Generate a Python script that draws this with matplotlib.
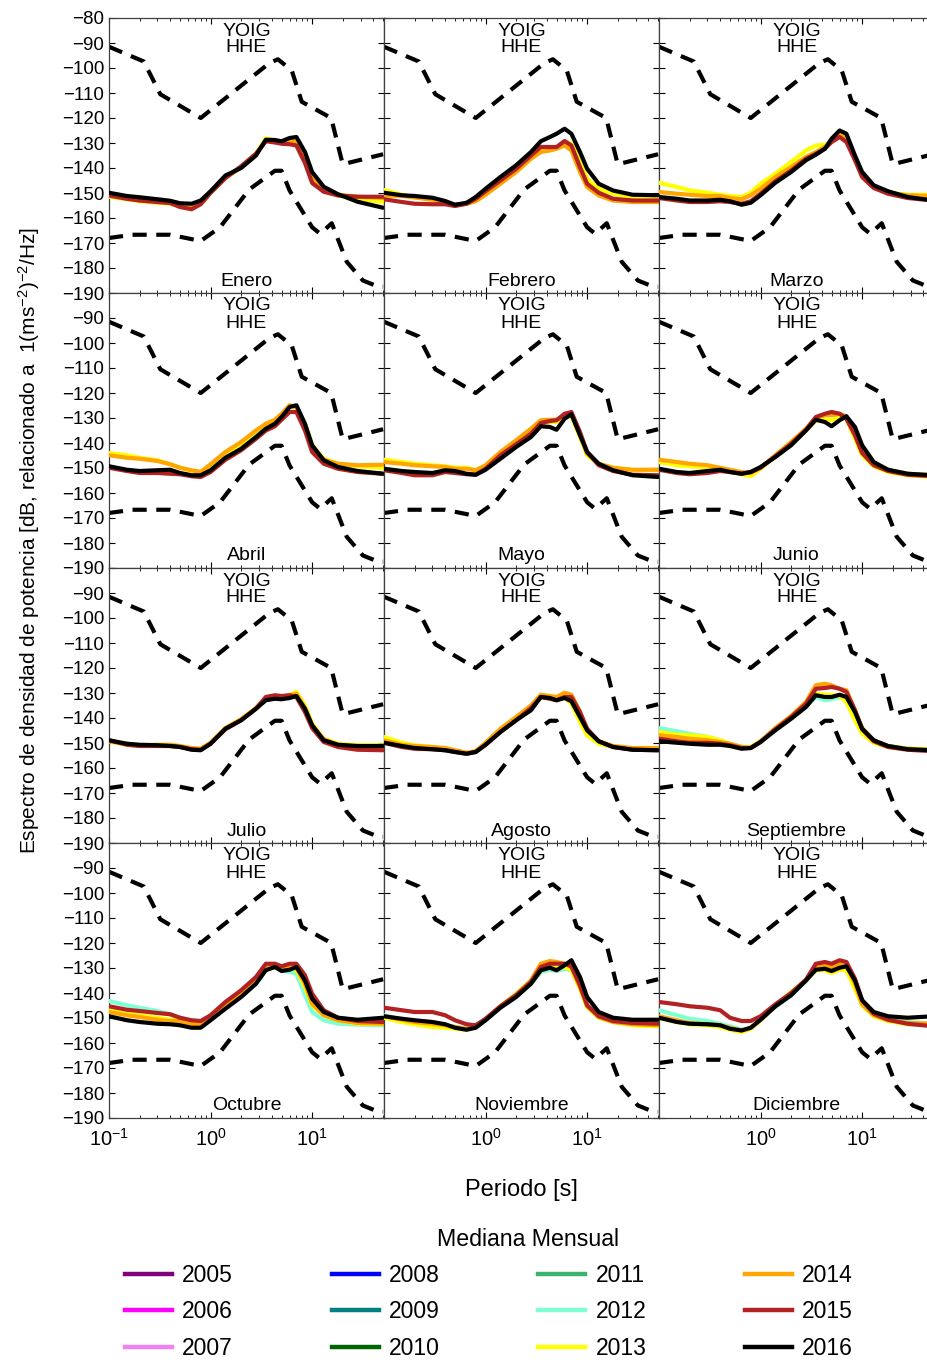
import matplotlib
matplotlib.use("Agg")
import matplotlib.pyplot as plt
from matplotlib.lines import Line2D
from matplotlib.ticker import FixedLocator, LogLocator, NullFormatter, FixedFormatter

plt.rcParams['font.family'] = ['Liberation Sans', 'DejaVu Sans']
plt.rcParams['mathtext.fontset'] = 'custom'
plt.rcParams['mathtext.rm'] = 'Liberation Sans'
plt.rcParams['mathtext.it'] = 'Liberation Sans:italic'
plt.rcParams['mathtext.bf'] = 'Liberation Sans:bold'

# ---------------- data ----------------
periods = [0.1, 0.15, 0.2, 0.3, 0.4, 0.5, 0.65, 0.8, 1.0, 1.4, 2.0, 2.8, 3.5,
           4.3, 5.0, 6.0, 7.0, 8.5, 10, 13, 18, 28, 50]

# Peterson noise models (vertices)
nhnm_T = [0.1, 0.22, 0.32, 0.8, 3.8, 4.6, 6.3, 7.9, 15.4, 20.0, 50.0]
nhnm_dB = [-91.5, -97.4, -110.5, -120.0, -98.0, -96.5, -101.0, -113.5, -120.0, -138.5, -134.5]
nlnm_T = [0.1, 0.17, 0.4, 0.8, 1.24, 2.4, 4.3, 5.0, 6.0, 10.0, 12.0, 15.6, 21.9, 31.6, 45.0, 50.0]
nlnm_dB = [-168.0, -166.7, -166.7, -169.2, -163.7, -148.6, -141.1, -141.1, -149.0, -163.7,
           -166.3, -162.1, -177.5, -185.0, -187.5, -187.5]

years = [2005, 2006, 2007, 2008, 2009, 2010, 2011, 2012, 2013, 2014, 2015, 2016]
year_colors = ['#800080', '#FF00FF', '#EE82EE', '#0000FF', '#008080', '#006400',
               '#3CB371', '#7FFFD4', '#FFFF00', '#FFA500', '#B22222', '#000000']

months = ['Enero', 'Febrero', 'Marzo', 'Abril', 'Mayo', 'Junio', 'Julio',
          'Agosto', 'Septiembre', 'Octubre', 'Noviembre', 'Diciembre']

enero = {
    2013: [-151.5, -152.5, -153.3, -153.9, -154.3, -155.3, -156.0, -154.3, -149.9, -144.0, -139.6, -134.3, -128.2, -129.0, -129.6, -129.0, -129.0, -135.0, -143.5, -149.0, -151.0, -152.5, -153.5],
    2014: [-151.0, -152.3, -153.0, -153.6, -154.0, -155.3, -156.0, -154.3, -149.9, -144.0, -139.6, -134.3, -128.9, -129.3, -129.6, -129.3, -129.6, -136.0, -144.0, -149.0, -150.7, -151.5, -152.0],
    2015: [-151.0, -152.3, -153.0, -153.6, -154.0, -155.6, -156.5, -154.5, -149.9, -144.0, -139.3, -134.3, -129.3, -129.8, -130.3, -130.5, -131.0, -138.0, -146.0, -149.5, -151.0, -151.5, -151.5],
    2016: [-149.9, -151.2, -151.7, -152.5, -153.1, -154.1, -154.3, -153.0, -149.3, -143.0, -140.0, -135.0, -128.7, -128.8, -129.3, -128.0, -127.6, -133.6, -141.6, -147.5, -150.5, -153.5, -155.9],
}
febrero = {
    2013: [-148.8, -150.7, -151.6, -152.7, -153.6, -154.7, -154.3, -152.3, -149.3, -144.9, -140.5, -135.2, -133.0, -132.3, -131.9, -129.6, -130.3, -137.0, -144.3, -148.3, -150.3, -151.6, -152.3],
    2014: [-151.0, -151.2, -151.8, -152.7, -153.6, -154.7, -154.3, -153.3, -150.7, -146.3, -141.6, -136.3, -133.6, -133.0, -132.3, -131.0, -133.0, -141.6, -147.6, -151.0, -153.0, -153.6, -153.6],
    2015: [-152.5, -153.6, -154.3, -154.5, -154.5, -155.2, -154.3, -152.3, -149.3, -145.0, -140.3, -135.0, -131.6, -131.6, -131.6, -129.2, -131.0, -139.6, -146.3, -149.9, -152.3, -153.0, -153.0],
    2016: [-149.9, -150.9, -151.2, -151.9, -153.2, -154.7, -153.9, -151.6, -148.3, -143.6, -138.9, -133.6, -129.3, -127.6, -126.3, -124.3, -126.3, -133.6, -140.3, -146.3, -149.0, -150.7, -150.9],
}
marzo = {
    2013: [-145.9, -147.6, -148.9, -149.9, -150.7, -151.2, -151.6, -149.9, -146.3, -142.3, -137.6, -133.0, -131.0, -130.7, -129.6, -126.3, -128.3, -135.6, -142.3, -147.6, -149.9, -150.7, -150.7],
    2014: [-149.6, -150.3, -150.7, -151.2, -151.2, -152.0, -152.5, -150.9, -148.3, -143.6, -139.6, -135.6, -133.6, -131.6, -129.6, -126.9, -128.3, -136.3, -142.9, -147.6, -149.9, -150.9, -151.2],
    2015: [-152.0, -153.0, -153.6, -153.6, -153.3, -153.6, -154.3, -153.3, -150.3, -145.3, -141.0, -136.3, -134.3, -132.3, -129.6, -127.6, -129.6, -136.9, -143.6, -148.0, -150.3, -152.0, -153.0],
    2016: [-151.6, -152.3, -153.0, -153.0, -152.7, -153.3, -154.7, -153.9, -150.9, -145.9, -141.6, -136.9, -134.7, -132.3, -128.3, -125.0, -126.3, -135.0, -141.6, -146.9, -149.3, -151.6, -153.0],
}
abril = {
    2013: [-144.0, -144.9, -145.9, -146.9, -148.5, -149.9, -151.2, -151.6, -148.9, -144.3, -140.3, -135.6, -133.0, -130.9, -128.9, -125.3, -125.6, -132.3, -140.9, -146.3, -148.3, -149.3, -149.9],
    2014: [-144.9, -145.9, -146.3, -147.2, -148.5, -149.9, -150.9, -151.6, -148.5, -143.6, -139.6, -135.0, -132.3, -130.7, -128.3, -124.9, -125.6, -133.6, -142.3, -146.7, -148.3, -148.9, -148.7],
    2015: [-149.9, -151.2, -152.0, -152.0, -152.3, -152.5, -153.3, -153.6, -151.6, -146.7, -142.9, -138.3, -135.0, -133.3, -130.7, -127.6, -127.6, -135.0, -143.6, -148.3, -150.3, -151.6, -152.3],
    2016: [-149.3, -150.7, -151.2, -150.9, -150.7, -152.0, -152.9, -152.9, -150.9, -145.9, -142.3, -137.6, -134.3, -132.3, -129.6, -125.6, -124.9, -132.3, -140.9, -146.9, -149.6, -151.2, -152.3],
}
mayo = {
    2013: [-146.7, -147.6, -148.3, -148.9, -149.3, -149.9, -149.9, -150.9, -149.3, -144.9, -140.0, -135.6, -132.3, -131.6, -131.6, -129.6, -129.3, -137.6, -144.9, -148.3, -149.9, -150.9, -150.7],
    2014: [-147.6, -148.3, -148.9, -149.3, -149.6, -150.3, -150.3, -150.9, -148.9, -143.6, -138.9, -134.3, -130.9, -130.7, -130.7, -128.9, -128.3, -136.3, -144.3, -148.3, -149.9, -150.7, -150.7],
    2015: [-150.9, -152.0, -152.9, -152.9, -151.6, -152.0, -152.5, -152.7, -150.3, -144.9, -140.5, -136.3, -132.0, -131.2, -130.9, -128.3, -127.6, -135.6, -143.6, -148.9, -151.2, -152.7, -152.9],
    2016: [-150.3, -151.2, -151.6, -152.0, -150.9, -151.2, -152.3, -152.7, -150.7, -146.3, -141.6, -137.6, -133.3, -133.6, -134.7, -130.3, -128.5, -136.9, -143.6, -148.3, -150.9, -152.9, -153.6],
}
junio = {
    2013: [-147.6, -148.9, -149.3, -149.9, -150.7, -151.2, -152.5, -153.3, -150.3, -145.3, -140.3, -135.0, -130.9, -130.7, -130.9, -129.6, -130.3, -138.3, -144.9, -149.3, -151.6, -152.9, -153.6],
    2014: [-146.7, -147.6, -148.3, -148.9, -149.9, -150.7, -151.6, -152.0, -149.9, -144.9, -139.6, -134.3, -129.9, -128.9, -128.9, -128.3, -129.3, -136.3, -143.6, -148.3, -150.7, -152.3, -152.9],
    2015: [-150.7, -152.0, -152.5, -152.0, -151.2, -151.6, -152.3, -151.6, -149.9, -145.3, -140.3, -134.7, -129.6, -128.3, -127.6, -128.3, -130.3, -136.9, -144.0, -148.9, -151.2, -152.7, -153.3],
    2016: [-150.3, -151.6, -152.0, -151.2, -150.7, -151.6, -152.3, -151.6, -149.6, -145.6, -140.9, -135.0, -130.7, -131.6, -133.3, -130.9, -129.3, -133.6, -140.9, -147.6, -150.7, -152.3, -152.9],
}
julio = {
    2013: [-149.3, -150.7, -151.2, -150.9, -151.2, -151.6, -152.3, -152.3, -149.9, -144.0, -140.5, -136.0, -132.0, -131.6, -131.6, -130.7, -129.6, -135.0, -142.3, -148.3, -150.3, -150.9, -150.9],
    2014: [-149.3, -150.3, -150.9, -150.7, -150.7, -151.2, -152.0, -152.3, -149.9, -144.0, -140.5, -136.0, -132.0, -131.6, -131.6, -130.9, -130.3, -136.0, -142.9, -148.5, -150.7, -151.6, -151.6],
    2015: [-148.9, -150.7, -151.2, -151.2, -151.2, -151.6, -152.5, -152.7, -150.3, -144.5, -140.9, -136.3, -131.6, -130.9, -131.2, -130.9, -131.6, -137.6, -144.0, -149.6, -151.6, -152.7, -152.9],
    2016: [-148.9, -150.3, -150.7, -150.9, -151.2, -151.6, -152.7, -152.9, -150.3, -144.3, -140.9, -136.3, -132.9, -132.3, -132.5, -132.0, -131.2, -136.3, -142.9, -148.9, -150.7, -151.2, -151.2],
}
agosto = {
    2013: [-147.6, -149.9, -150.9, -151.6, -152.3, -152.9, -153.9, -153.3, -150.3, -144.9, -140.3, -135.6, -130.9, -132.0, -132.3, -131.6, -134.3, -141.6, -146.9, -150.3, -151.6, -152.3, -152.3],
    2014: [-148.9, -150.7, -151.2, -151.6, -152.0, -152.9, -153.9, -153.3, -149.9, -144.3, -139.6, -135.0, -130.7, -131.2, -131.6, -129.9, -130.7, -137.6, -144.9, -149.3, -151.2, -152.0, -152.0],
    2015: [-149.9, -151.6, -152.3, -152.5, -152.9, -153.6, -154.3, -153.6, -150.7, -145.6, -140.9, -136.0, -131.6, -132.3, -132.9, -131.6, -131.6, -137.6, -144.3, -149.3, -151.6, -152.7, -152.9],
    2016: [-149.9, -151.2, -152.0, -152.5, -152.9, -153.6, -154.3, -153.6, -150.7, -145.6, -140.9, -136.9, -131.6, -132.0, -132.9, -132.0, -133.3, -139.6, -144.9, -149.3, -151.6, -152.7, -152.9],
}
septiembre = {
    2012: [-144.0, -145.3, -146.3, -147.6, -148.9, -150.3, -151.6, -151.6, -149.3, -144.5, -140.0, -135.0, -131.6, -132.9, -132.5, -131.6, -132.3, -138.3, -144.9, -149.3, -151.2, -152.3, -152.5],
    2013: [-145.6, -146.7, -146.9, -147.6, -148.9, -150.3, -151.6, -151.6, -149.3, -144.3, -139.6, -134.7, -130.3, -130.7, -130.7, -131.2, -133.6, -140.9, -146.3, -149.9, -151.6, -152.3, -152.5],
    2014: [-146.9, -147.6, -148.3, -148.9, -149.6, -150.3, -151.6, -152.0, -149.3, -144.0, -139.2, -133.6, -126.9, -126.3, -126.9, -128.3, -128.9, -136.9, -144.0, -148.9, -151.2, -152.3, -152.9],
    2015: [-148.3, -149.3, -149.9, -149.9, -150.3, -150.9, -152.0, -152.0, -149.6, -144.5, -139.6, -134.3, -128.3, -128.0, -127.6, -128.3, -129.6, -136.9, -144.5, -149.3, -151.6, -152.7, -153.3],
    2016: [-149.3, -149.9, -150.3, -150.7, -150.7, -151.2, -152.3, -152.0, -149.6, -144.9, -140.3, -135.6, -130.9, -131.6, -131.6, -130.7, -131.6, -137.6, -144.3, -148.9, -151.2, -152.5, -152.9],
}
octubre = {
    2012: [-143.2, -144.9, -145.9, -147.2, -148.5, -149.9, -151.2, -152.0, -149.9, -144.5, -140.3, -135.0, -129.6, -129.6, -130.9, -131.6, -132.3, -140.9, -147.6, -150.9, -152.3, -152.7, -152.9],
    2013: [-146.9, -148.3, -148.9, -149.9, -150.7, -150.9, -151.6, -152.0, -149.9, -144.9, -140.5, -135.6, -130.3, -129.9, -130.3, -129.9, -130.7, -137.6, -144.9, -148.9, -150.9, -152.3, -152.5],
    2014: [-147.6, -148.9, -149.6, -150.7, -151.2, -151.2, -152.3, -152.5, -150.3, -145.3, -140.5, -135.0, -129.9, -129.3, -130.3, -129.6, -129.9, -136.3, -144.3, -148.9, -150.9, -152.0, -152.3],
    2015: [-145.3, -146.7, -147.2, -148.0, -148.5, -149.9, -150.9, -151.2, -148.9, -143.6, -138.9, -133.6, -128.3, -128.3, -129.3, -128.3, -128.3, -132.9, -140.3, -146.9, -149.9, -151.2, -151.6],
    2016: [-149.3, -150.9, -151.6, -152.3, -152.5, -152.9, -153.9, -153.9, -150.9, -146.3, -141.6, -136.3, -130.9, -129.6, -131.2, -130.7, -129.6, -135.0, -142.3, -147.6, -149.9, -150.7, -149.9],
}
noviembre = {
    2012: [-148.9, -150.7, -151.6, -152.3, -152.9, -153.6, -154.3, -153.6, -150.7, -145.6, -141.3, -136.3, -131.6, -130.7, -131.2, -130.3, -130.9, -137.6, -144.9, -149.3, -151.2, -152.3, -152.7],
    2013: [-149.9, -151.6, -152.5, -153.6, -153.9, -154.3, -154.7, -153.6, -150.7, -145.3, -140.5, -135.2, -129.6, -129.6, -129.9, -129.6, -130.7, -138.3, -145.6, -149.9, -151.6, -152.9, -153.3],
    2014: [-149.3, -150.7, -151.6, -152.3, -152.9, -153.6, -154.3, -153.6, -150.7, -145.3, -140.5, -135.0, -128.3, -127.2, -127.6, -128.3, -129.6, -137.6, -145.3, -149.6, -151.6, -152.5, -152.9],
    2015: [-145.9, -146.9, -147.6, -147.6, -148.9, -150.9, -152.5, -152.9, -150.3, -145.3, -140.9, -135.6, -129.6, -128.3, -128.3, -128.3, -129.3, -136.9, -144.9, -149.3, -151.2, -152.0, -152.3],
    2016: [-149.3, -150.3, -150.9, -151.6, -152.5, -153.9, -154.7, -153.9, -150.9, -145.9, -141.6, -136.3, -130.9, -129.9, -130.9, -128.9, -126.9, -133.6, -141.6, -147.6, -149.9, -150.7, -150.7],
}
diciembre = {
    2012: [-146.9, -148.9, -150.3, -151.2, -152.3, -153.3, -154.7, -153.9, -150.7, -145.6, -140.9, -135.2, -130.3, -130.3, -130.9, -129.6, -129.6, -136.3, -144.0, -148.3, -150.3, -151.6, -152.3],
    2013: [-149.9, -151.6, -152.5, -152.9, -153.6, -154.7, -155.6, -154.3, -150.9, -144.9, -139.6, -135.0, -130.9, -130.9, -132.0, -130.7, -130.9, -138.3, -144.9, -149.3, -151.2, -152.5, -152.9],
    2014: [-149.3, -150.9, -152.0, -152.5, -152.9, -153.9, -155.0, -153.9, -150.7, -145.3, -140.3, -134.7, -129.6, -128.9, -129.6, -128.3, -128.9, -136.3, -144.5, -148.9, -150.9, -152.0, -152.3],
    2015: [-143.6, -144.5, -145.3, -145.9, -146.9, -149.9, -151.2, -151.2, -149.3, -144.5, -140.0, -134.7, -128.3, -127.6, -128.3, -126.9, -127.6, -134.3, -142.9, -148.3, -150.7, -152.3, -153.3],
    2016: [-149.9, -151.6, -152.3, -152.5, -152.9, -154.3, -155.0, -153.9, -150.7, -145.3, -140.9, -135.0, -130.7, -130.3, -131.2, -129.9, -129.3, -135.0, -142.9, -147.6, -149.3, -149.9, -149.3],
}

month_data = [enero, febrero, marzo, abril, mayo, junio, julio, agosto,
              septiembre, octubre, noviembre, diciembre]

# ---------------- layout ----------------
W, H = 927, 1362
fig = plt.figure(figsize=(W / 100, H / 100), dpi=100)

col_left = [109, 384, 659]
row_top = [18, 293, 568, 843]
PW, PH = 275, 275
yticks = list(range(-80, -191, -10))

for i, (mname, mdat) in enumerate(zip(months, month_data)):
    r, c = divmod(i, 3)
    ax = fig.add_axes([col_left[c] / W, 1 - (row_top[r] + PH) / H, PW / W, PH / H])
    ax.set_xscale('log')
    ax.set_xlim(0.1, 51)
    ax.set_ylim(-190, -80)

    for y in sorted(mdat.keys()):
        ax.plot(periods, mdat[y], color=year_colors[years.index(y)], lw=3.0,
                solid_capstyle='round', solid_joinstyle='round', zorder=3)

    ax.plot(nhnm_T, nhnm_dB, color='black', lw=3.0, linestyle=(0, (3.4, 2.3)), zorder=2)
    ax.plot(nlnm_T, nlnm_dB, color='black', lw=3.0, linestyle=(0, (3.4, 2.3)), zorder=2)

    ax.text(0.5, 1 - 13 / PH, 'YOIG', transform=ax.transAxes, ha='center', va='center', fontsize=14)
    ax.text(0.5, 1 - 30 / PH, 'HHE', transform=ax.transAxes, ha='center', va='center', fontsize=14)
    ax.text(0.5, 12 / PH, mname, transform=ax.transAxes, ha='center', va='center', fontsize=14)

    ax.tick_params(which='both', direction='in', top=True, right=True)
    ax.tick_params(which='major', length=4, width=0.8, labelsize=13.5)
    ax.tick_params(which='minor', length=2.5, width=0.6)
    ax.yaxis.set_major_locator(FixedLocator(yticks))
    if c == 0:
        labels = ['\u2212%d' % (-t) for t in yticks]
        if r > 0:
            labels[0] = ''
        ax.yaxis.set_major_formatter(FixedFormatter(labels))
    else:
        ax.set_yticklabels([])
    if c == 0:
        ax.xaxis.set_major_locator(FixedLocator([0.1, 1, 10]))
        xlabels = [r'$\mathregular{10^{-1}}$', r'$\mathregular{10^{0}}$', r'$\mathregular{10^{1}}$']
    else:
        ax.xaxis.set_major_locator(FixedLocator([1, 10]))
        xlabels = [r'$\mathregular{10^{0}}$', r'$\mathregular{10^{1}}$']
    ax.xaxis.set_minor_locator(LogLocator(base=10, subs=range(2, 10)))
    ax.xaxis.set_minor_formatter(NullFormatter())
    if r == 3:
        ax.xaxis.set_major_formatter(FixedFormatter(xlabels))
        ax.tick_params(axis='x', pad=7, labelsize=14.5)
    else:
        ax.set_xticklabels([])
    for s in ax.spines.values():
        s.set_linewidth(0.9)
        s.set_color('0.25')

fig.text(521 / W, 1 - 1190 / H, 'Periodo [s]', ha='center', va='center', fontsize=17)
fig.text(29 / W, 1 - 540 / H,
         r'Espectro de densidad de potencia [dB, relacionado a  1(ms$^{-2}$)$^{-2}$/Hz]',
         ha='center', va='center', rotation=90, fontsize=15)

fig.text(528 / W, 1 - 1240 / H, 'Mediana Mensual', ha='center', va='center', fontsize=16.7)
handles = [Line2D([], [], color=col, lw=3.2) for col in year_colors]
leg = fig.legend(handles, [str(y) for y in years], ncol=4, frameon=False,
                 loc='upper center', bbox_to_anchor=(489 / W, 1 - 1243 / H),
                 fontsize=16.5, handlelength=2.05, handletextpad=0.45, columnspacing=4.3,
                 labelspacing=0.6)

fig.savefig('out.png', dpi=100)
